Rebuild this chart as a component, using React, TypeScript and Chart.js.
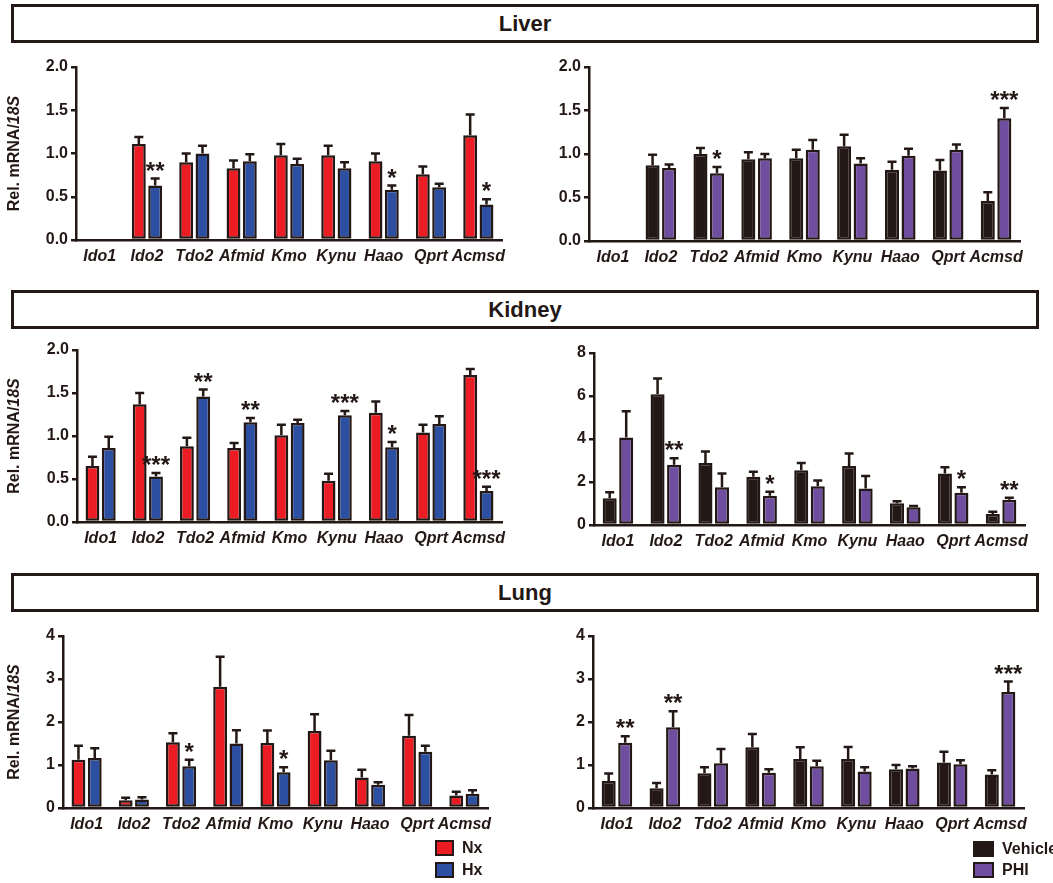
import React, { useEffect, useRef } from "react";
import { Chart, registerables } from "chart.js";
Chart.register(...registerables);

// ---------- data ----------
const categories = ["Ido1", "Ido2", "Tdo2", "Afmid", "Kmo", "Kynu", "Haao", "Qprt", "Acmsd"];

const liverNx = [null, 1.11, 0.90, 0.83, 0.98, 0.98, 0.91, 0.76, 1.21];
const liverNxSem = [0, 0.08, 0.10, 0.09, 0.13, 0.11, 0.09, 0.09, 0.24];
const liverHx = [null, 0.63, 1.00, 0.91, 0.88, 0.83, 0.58, 0.61, 0.41];
const liverHxSem = [0, 0.08, 0.09, 0.08, 0.06, 0.07, 0.05, 0.04, 0.06];
const liverHxSig = ["", "**", "", "", "", "", "*", "", "*"];

const liverVeh = [null, 0.87, 1.00, 0.94, 0.95, 1.09, 0.82, 0.81, 0.46];
const liverVehSem = [0, 0.12, 0.07, 0.08, 0.10, 0.13, 0.09, 0.12, 0.10];
const liverPhi = [null, 0.84, 0.78, 0.95, 1.05, 0.89, 0.98, 1.05, 1.41];
const liverPhiSem = [0, 0.04, 0.07, 0.05, 0.11, 0.06, 0.08, 0.06, 0.12];
const liverPhiSig = ["", "", "*", "", "", "", "", "", "***"];

const kidneyNx = [0.65, 1.37, 0.88, 0.86, 1.01, 0.48, 1.27, 1.04, 1.71];
const kidneyNxSem = [0.11, 0.13, 0.10, 0.06, 0.12, 0.08, 0.13, 0.09, 0.07];
const kidneyHx = [0.86, 0.53, 1.46, 1.16, 1.15, 1.24, 0.87, 1.14, 0.36];
const kidneyHxSem = [0.13, 0.04, 0.08, 0.05, 0.04, 0.05, 0.06, 0.09, 0.05];
const kidneyHxSig = ["", "***", "**", "**", "", "***", "*", "", "***"];

const kidneyVeh = [1.24, 6.08, 2.88, 2.24, 2.55, 2.74, 1.01, 2.40, 0.51];
const kidneyVehSem = [0.28, 0.73, 0.54, 0.24, 0.33, 0.59, 0.09, 0.29, 0.11];
const kidneyPhi = [4.07, 2.80, 1.76, 1.36, 1.80, 1.70, 0.82, 1.50, 1.18];
const kidneyPhiSem = [1.22, 0.31, 0.64, 0.19, 0.27, 0.58, 0.06, 0.26, 0.09];
const kidneyPhiSig = ["", "**", "", "*", "", "", "", "*", "**"];

const lungNx = [1.12, 0.18, 1.53, 2.82, 1.51, 1.79, 0.71, 1.68, 0.29];
const lungNxSem = [0.33, 0.06, 0.21, 0.70, 0.29, 0.39, 0.18, 0.48, 0.09];
const lungHx = [1.16, 0.20, 0.97, 1.50, 0.83, 1.11, 0.54, 1.31, 0.33];
const lungHxSem = [0.23, 0.05, 0.15, 0.31, 0.12, 0.22, 0.06, 0.14, 0.08];
const lungHxSig = ["", "", "*", "", "*", "", "", "", ""];

const lungVeh = [0.63, 0.46, 0.81, 1.41, 1.14, 1.14, 0.90, 1.06, 0.78];
const lungVehSem = [0.17, 0.12, 0.14, 0.31, 0.27, 0.28, 0.10, 0.25, 0.10];
const lungPhi = [1.52, 1.88, 1.04, 0.82, 0.97, 0.85, 0.92, 1.02, 2.70];
const lungPhiSem = [0.15, 0.37, 0.33, 0.08, 0.13, 0.10, 0.05, 0.09, 0.24];
const lungPhiSig = ["**", "**", "", "", "", "", "", "", "***"];

const noSig = ["", "", "", "", "", "", "", "", ""];

// ---------- style ----------
const FONT = '"Liberation Sans", Arial, Helvetica, sans-serif';
const INK = "#231815";
const RED = "#ec1c24";
const BLUE = "#2d4fa2";
const BLACK = "#231815";
const PURPLE = "#6f4e9f";

type Series = { label: string; data: (number | null)[]; sem: number[]; sig: string[]; color: string };
type PanelCfg = {
  left: number; top: number; width: number; height: number;
  area: { l: number; r: number; t: number; b: number };
  yMax: number; yStep: number; decimals: number; yTitle: boolean;
  series: Series[];
};

const nxHx = (nx: any, nxs: number[], hx: any, hxs: number[], sig: string[]): Series[] => [
  { label: "Nx", data: nx, sem: nxs, sig: noSig, color: RED },
  { label: "Hx", data: hx, sem: hxs, sig, color: BLUE },
];
const vehPhi = (v: any, vs: number[], p: any, ps: number[], sig: string[]): Series[] => [
  { label: "Vehicle", data: v, sem: vs, sig: noSig, color: BLACK },
  { label: "PHI", data: p, sem: ps, sig, color: PURPLE },
];

const panels: PanelCfg[] = [
  { left: 0, top: 50, width: 530, height: 225, area: { l: 76, r: 502, t: 67, b: 240 }, yMax: 2, yStep: 0.5, decimals: 1, yTitle: true,
    series: nxHx(liverNx, liverNxSem, liverHx, liverHxSem, liverHxSig) },
  { left: 530, top: 50, width: 523, height: 225, area: { l: 589, r: 1020, t: 67, b: 241 }, yMax: 2, yStep: 0.5, decimals: 1, yTitle: false,
    series: vehPhi(liverVeh, liverVehSem, liverPhi, liverPhiSem, liverPhiSig) },
  { left: 0, top: 333, width: 530, height: 225, area: { l: 77, r: 502, t: 350, b: 522 }, yMax: 2, yStep: 0.5, decimals: 1, yTitle: true,
    series: nxHx(kidneyNx, kidneyNxSem, kidneyHx, kidneyHxSem, kidneyHxSig) },
  { left: 530, top: 333, width: 523, height: 225, area: { l: 594, r: 1025, t: 353, b: 525 }, yMax: 8, yStep: 2, decimals: 0, yTitle: false,
    series: vehPhi(kidneyVeh, kidneyVehSem, kidneyPhi, kidneyPhiSem, kidneyPhiSig) },
  { left: 0, top: 615, width: 530, height: 245, area: { l: 63, r: 488, t: 636, b: 808 }, yMax: 4, yStep: 1, decimals: 0, yTitle: true,
    series: nxHx(lungNx, lungNxSem, lungHx, lungHxSem, lungHxSig) },
  { left: 530, top: 615, width: 523, height: 245, area: { l: 593, r: 1024, t: 636, b: 808 }, yMax: 4, yStep: 1, decimals: 0, yTitle: false,
    series: vehPhi(lungVeh, lungVehSem, lungPhi, lungPhiSem, lungPhiSig) },
];

function Panel({ cfg }: { cfg: PanelCfg }) {
  const ref = useRef<HTMLCanvasElement>(null);
  useEffect(() => {
    const canvas = ref.current!;
    const yWidth = cfg.area.l - cfg.left;
    const xHeight = cfg.top + cfg.height - cfg.area.b;
    const errPlugin = {
      id: "errs",
      afterDatasetsDraw(chart: any) {
        const ctx = chart.ctx;
        const ys = chart.scales.y;
        ctx.save();
        ctx.strokeStyle = INK;
        ctx.lineWidth = 2.5;
        cfg.series.forEach((s, i) => {
          const meta = chart.getDatasetMeta(i);
          meta.data.forEach((bar: any, j: number) => {
            const v = s.data[j];
            if (v == null) return;
            const top = ys.getPixelForValue(v + s.sem[j]);
            const x = bar.x;
            ctx.beginPath();
            ctx.moveTo(x, bar.y);
            ctx.lineTo(x, top);
            ctx.moveTo(x - 4.5, top);
            ctx.lineTo(x + 4.5, top);
            ctx.stroke();
            if (s.sig[j]) {
              ctx.fillStyle = INK;
              ctx.font = `bold 24px ${FONT}`;
              ctx.textAlign = "center";
              ctx.textBaseline = "alphabetic";
              ctx.fillText(s.sig[j], x, top);
            }
          });
        });
        if (cfg.yTitle) {
          const ca = chart.chartArea;
          const cy = (ca.top + ca.bottom) / 2;
          ctx.translate(15 - cfg.left, cy);
          ctx.rotate(-Math.PI / 2);
          const f1 = `bold 16px ${FONT}`;
          const f2 = `italic bold 16px ${FONT}`;
          ctx.font = f1;
          const w1 = ctx.measureText("Rel. mRNA/").width;
          ctx.font = f2;
          const w2 = ctx.measureText("18S").width;
          ctx.fillStyle = INK;
          ctx.textAlign = "left";
          ctx.textBaseline = "middle";
          ctx.font = f1;
          ctx.fillText("Rel. mRNA/", -(w1 + w2) / 2, 0);
          ctx.font = f2;
          ctx.fillText("18S", -(w1 + w2) / 2 + w1, 0);
        }
        ctx.restore();
      },
    };
    const chart = new Chart(canvas, {
      type: "bar",
      data: {
        labels: categories,
        datasets: cfg.series.map((s) => ({
          label: s.label,
          data: s.data as any,
          backgroundColor: s.color,
          borderColor: INK,
          borderWidth: 2.5,
          borderSkipped: false,
          categoryPercentage: 0.69,
          barPercentage: 0.85,
        })),
      },
      options: {
        responsive: false,
        animation: false,
        devicePixelRatio: 1,
        layout: {
          padding: { left: 0, top: cfg.area.t - cfg.top, right: cfg.left + cfg.width - cfg.area.r, bottom: 0 },
        },
        plugins: { legend: { display: false }, tooltip: { enabled: false } },
        scales: {
          x: {
            grid: { display: false, drawTicks: false },
            border: { display: true, color: INK, width: 2.5 },
            ticks: {
              autoSkip: false, maxRotation: 0, minRotation: 0, padding: 7, color: INK,
              font: { family: FONT, size: 16, weight: "bold", style: "italic" },
            },
            afterFit: (s: any) => { s.height = xHeight; },
          },
          y: {
            min: 0,
            max: cfg.yMax,
            ticks: {
              stepSize: cfg.yStep,
              color: INK,
              padding: 3,
              font: { family: FONT, size: 16, weight: "bold" },
              callback: (v: any) => Number(v).toFixed(cfg.decimals),
            },
            grid: { display: true, drawOnChartArea: false, drawTicks: true, tickLength: 5, color: INK, lineWidth: 2.5 },
            border: { display: true, color: INK, width: 2.5 },
            afterFit: (s: any) => { s.width = yWidth; },
          },
        },
      } as any,
      plugins: [errPlugin],
    });
    return () => chart.destroy();
  }, []);
  return (
    <canvas
      ref={ref}
      width={cfg.width}
      height={cfg.height}
      style={{ position: "absolute", left: cfg.left, top: cfg.top, width: cfg.width, height: cfg.height }}
    />
  );
}

function Header({ text, top }: { text: string; top: number }) {
  return (
    <div
      style={{
        position: "absolute", left: 11, top, width: 1028, height: 39, boxSizing: "border-box",
        border: `3px solid ${INK}`, display: "flex", alignItems: "center", justifyContent: "center",
        fontFamily: FONT, fontWeight: "bold", fontSize: 22, color: INK,
      }}
    >
      {text}
    </div>
  );
}

function LegendItem({ left, top, w, color, text }: { left: number; top: number; w: number; color: string; text: string }) {
  return (
    <>
      <div style={{ position: "absolute", left, top, width: w, height: 16, boxSizing: "border-box", border: `2px solid ${INK}`, background: color }} />
      <div style={{ position: "absolute", left: left + w + 8, top: top - 1, height: 18, lineHeight: "18px", fontFamily: FONT, fontWeight: "bold", fontSize: 16, color: INK, whiteSpace: "nowrap" }}>
        {text}
      </div>
    </>
  );
}

export default function App() {
  return (
    <div style={{ position: "absolute", left: 0, top: 0, width: 1053, height: 883, overflow: "hidden", background: "#fff" }}>
      <Header text="Liver" top={4} />
      <Header text="Kidney" top={290} />
      <Header text="Lung" top={573} />
      {panels.map((p, i) => (
        <Panel key={i} cfg={p} />
      ))}
      <LegendItem left={435} top={840} w={19} color={RED} text="Nx" />
      <LegendItem left={435} top={862} w={19} color={BLUE} text="Hx" />
      <LegendItem left={973} top={841} w={21} color={BLACK} text="Vehicle" />
      <LegendItem left={973} top={862} w={21} color={PURPLE} text="PHI" />
    </div>
  );
}
